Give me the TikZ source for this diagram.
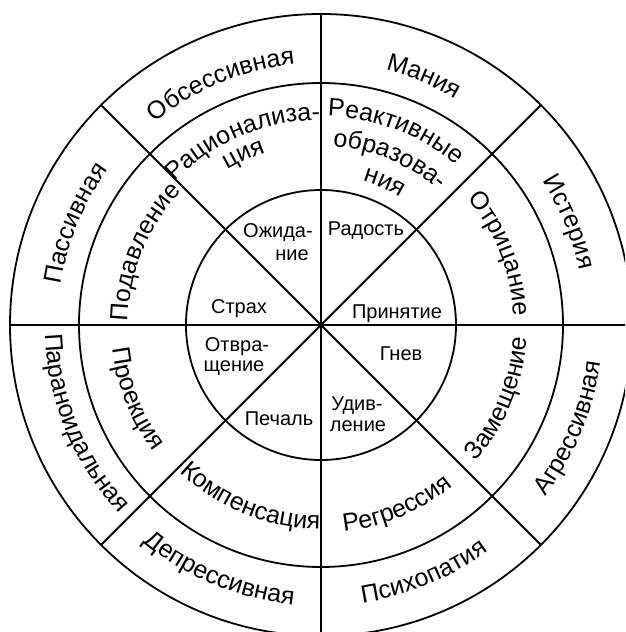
\documentclass[tikz,border=0pt]{standalone}
\usepackage{fontspec}
\setmainfont{Liberation Sans}
\usetikzlibrary{decorations.text}
\newcommand\ringfont{\fontsize{25}{30}\selectfont}
\newcommand\corefont{\fontsize{20}{24}\selectfont}
% upper half: clockwise, letter tops outward
\newcommand\UpArc[3]{\path[decorate,decoration={text along path,text align=center,text={|\ringfont|#3}}] ({#1+45}:#2pt) arc[start angle={#1+45},end angle={#1-45},radius=#2pt];}
% lower half: counter-clockwise, letter tops inward
\newcommand\LowArc[3]{\path[decorate,decoration={text along path,text align=center,text={|\ringfont|#3}}] ({#1-45}:#2pt) arc[start angle={#1-45},end angle={#1+45},radius=#2pt];}
\tikzset{
  ring/.style={line width=1.8pt},
  spoke/.style={line width=2pt},
  core/.style={font=\corefont, inner sep=0pt, anchor=base}
}
\begin{document}
\begin{tikzpicture}[x=1pt,y=1pt]
\useasboundingbox (-321pt,-307pt) rectangle (304pt,325pt);
\clip (-321pt,-307pt) rectangle (304pt,325pt);
\fill[white] (-321pt,-307pt) rectangle (304pt,325pt);
\coordinate (c) at (0,0);
\foreach \a in {0,45,...,315}{\coordinate (o\a) at (\a:311pt);}
% circles
\draw[ring] (c) circle[radius=311pt];
\draw[ring] (c) circle[radius=242pt];
\draw[ring] (c) circle[radius=135pt];
% spokes
\draw[spoke] (o90) -- (o270);
\draw[spoke] (o0) -- (o180);
\draw[spoke] (o45) -- (o225);
\draw[spoke] (o135) -- (o315);
% outer ring
\UpArc{112.5}{262}{Обсессивная}
\UpArc{67.5}{263}{Мания}
\UpArc{22.5}{264}{Истерия}
\UpArc{157.5}{263}{Пассивная}
\LowArc{202.5}{276}{Параноидальная}
\LowArc{247.5}{281}{Депрессивная}
\LowArc{292.5}{281}{Психопатия}
\LowArc{337.5}{282}{Агрессивная}
% middle ring
\UpArc{113.0}{205}{Рационализа-}
\UpArc{114.4}{181}{ция}
\UpArc{69}{209}{Реактивные}
\UpArc{67.5}{179}{образова-}
\UpArc{66}{150}{ния}
\UpArc{21.7}{193}{Отрицание}
\UpArc{157.5}{193}{Подавление}
\LowArc{201.8}{210}{Проекция}
\LowArc{247.9}{204}{Компенсация}
\LowArc{292.8}{208}{Регрессия}
\LowArc{337.6}{206}{Замещение}
% core
\node[core] (ozh) at (-43,87) {Ожида-};
\node[core] (ozh2) at (-29,64) {ние};
\node[core] (rad) at (45,89) {Радость};
\node[core] (str) at (-82,12) {Страх};
\node[core] (pri) at (76,7) {Принятие};
\node[core] (otv) at (-84,-26) {Отвра-};
\node[core] (otv2) at (-87,-46) {щение};
\node[core] (gne) at (80,-35) {Гнев};
\node[core] (udi) at (36,-85) {Удив-};
\node[core] (udi2) at (37,-106) {ление};
\node[core] (pec) at (-42,-100) {Печаль};
\end{tikzpicture}
\end{document}
